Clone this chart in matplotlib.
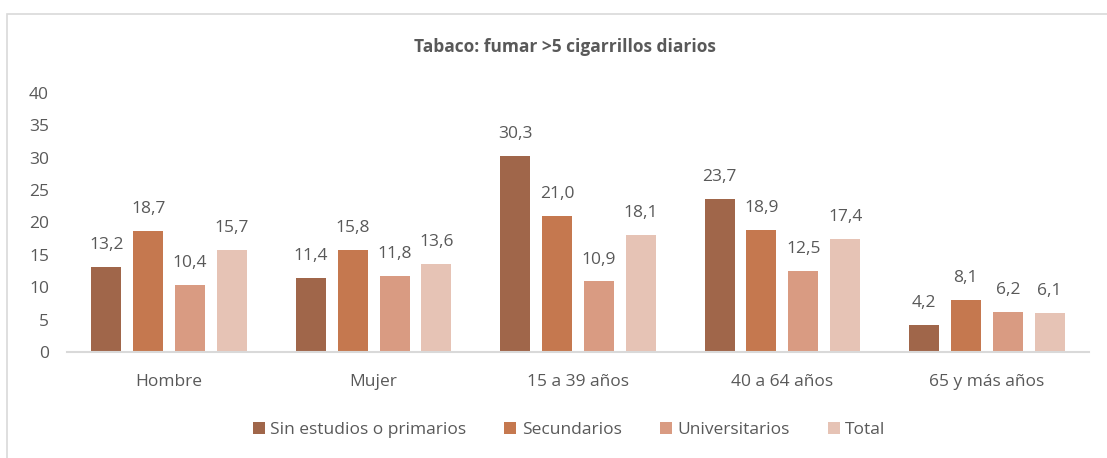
import numpy as np
import matplotlib.pyplot as plt
from matplotlib.patches import Rectangle

plt.rcParams["font.family"] = ["Open Sans", "DejaVu Sans"]

categories = ["Hombre", "Mujer", "15 a 39 años", "40 a 64 años", "65 y más años"]
series_names = ["Sin estudios o primarios", "Secundarios", "Universitarios", "Total"]
sin_estudios = [13.2, 11.4, 30.3, 23.7, 4.2]
secundarios = [18.7, 15.8, 21.0, 18.9, 8.1]
universitarios = [10.4, 11.8, 10.9, 12.5, 6.2]
total = [15.7, 13.6, 18.1, 17.4, 6.1]
yticks = [0, 5, 10, 15, 20, 25, 30, 35, 40]

colors = ["#A0664A", "#C5784F", "#D99B82", "#E6C3B5"]
text_color = "#595959"

fig = plt.figure(figsize=(11.07, 4.58), dpi=100)
ax = fig.add_axes([67 / 1107, 106 / 458, 1022 / 1107, 259 / 458])

# chart frame (only top/left visible in the reference)
fig.patches.append(Rectangle((7 / 1107, -0.1), 1.2, (458 - 14) / 458 + 0.1,
                             transform=fig.transFigure, fill=False,
                             edgecolor="#D9D9D9", linewidth=1.2))

x = np.arange(len(categories))
pitch = 0.205
width = 0.147
for i, (vals, name) in enumerate(zip([sin_estudios, secundarios, universitarios, total],
                                     series_names)):
    pos = x + (i - 1.5) * pitch
    bars = ax.bar(pos, vals, width, color=colors[i], label=name)
    for b, v in zip(bars, vals):
        ax.annotate(f"{v:.1f}".replace(".", ","), (b.get_x() + b.get_width() / 2, v),
                    xytext=(0, 10), textcoords="offset points",
                    ha="center", va="bottom", fontsize=12.5, color=text_color)

ax.set_xlim(-0.5, len(categories) - 0.5)
ax.set_ylim(0, 40)
ax.set_yticks(yticks)
ax.set_xticks(x)
ax.set_xticklabels(categories)
ax.tick_params(axis="both", length=0, labelsize=12.5, labelcolor=text_color)
ax.tick_params(axis="x", pad=16)
ax.tick_params(axis="y", pad=13)
for s in ["top", "right", "left"]:
    ax.spines[s].set_visible(False)
ax.spines["bottom"].set_color("#D9D9D9")
ax.spines["bottom"].set_linewidth(1.5)

fig.text(565 / 1107, 1 - 47 / 458, "Tabaco: fumar >5 cigarrillos diarios",
         ha="center", va="center", fontsize=12.5, fontweight="bold", color=text_color)

fig.legend(loc="center", bbox_to_anchor=(569 / 1107, 1 - 430 / 458), ncol=4,
           frameon=False, fontsize=12.5, labelcolor=text_color,
           handlelength=0.7, handleheight=0.7, handletextpad=0.3, columnspacing=2.2)

fig.savefig("out.png", dpi=100)
